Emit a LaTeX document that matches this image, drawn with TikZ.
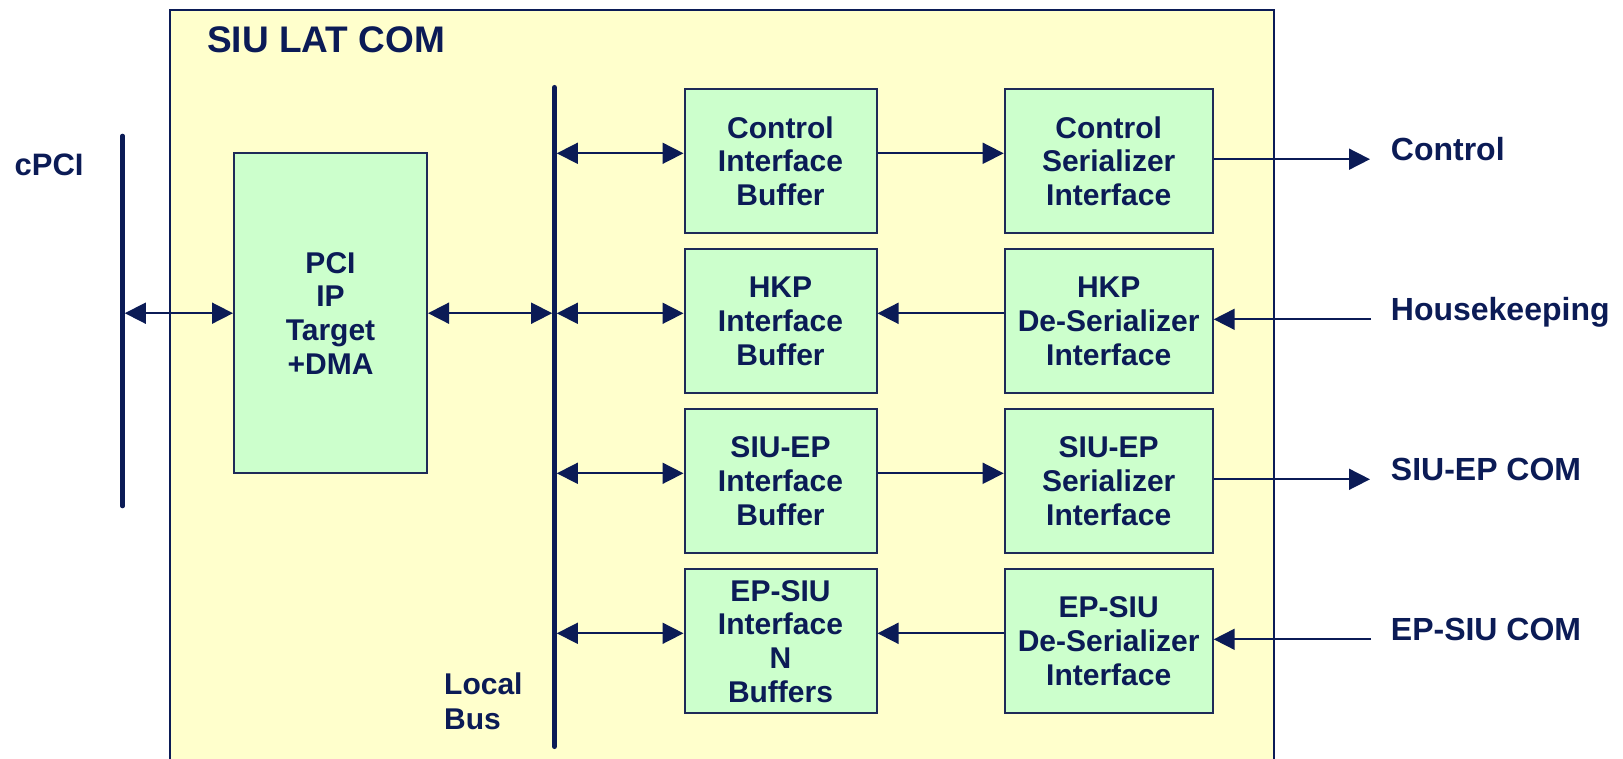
\documentclass[tikz,border=0pt]{standalone}
\usepackage{fontspec}
\setmainfont{Liberation Sans}
\usetikzlibrary{arrows.meta}
\definecolor{navy}{RGB}{11,27,86}
\definecolor{boxline}{RGB}{30,42,88}
\definecolor{paleyellow}{RGB}{255,255,204}
\definecolor{palegreen}{RGB}{204,255,204}
\tikzset{
  blk/.style={draw=boxline, line width=2pt, fill=palegreen, inner sep=0pt,
    align=center, text=navy, font=\bfseries\fontsize{30}{33.7}\selectfont},
  buf/.style={blk, minimum width=192pt, minimum height=144pt},
  ser/.style={blk, minimum width=208pt, minimum height=144pt},
  lbl/.style={text=navy, inner sep=0pt, anchor=base west},
  bus/.style={draw=navy, line width=4.6pt, line cap=round},
  conn/.style={draw=navy, line width=1.7pt, >={Triangle[length=21pt,width=21pt]}},
}
\begin{document}
\begin{tikzpicture}[x=1pt,y=-1pt]
\useasboundingbox (0,0) rectangle (1623,759);
\clip (0,0) rectangle (1623,759);
% frame
\path[draw=navy, line width=2pt, fill=paleyellow] (170,9.7) rectangle (1274.3,800);
\node[lbl, font=\bfseries\fontsize{37}{40}\selectfont] (title) at (207,52.3) {SIU LAT COM};
% buses
\coordinate (cpciT) at (122.5,136);
\coordinate (cpciB) at (122.5,506);
\coordinate (cpciR) at (124.8,136);
\coordinate (lbusT) at (554.5,87.3);
\coordinate (lbusB) at (554.5,746.7);
\coordinate (lbusL) at (552.2,87.3);
\coordinate (lbusR) at (556.8,87.3);
\draw[bus] (cpciT) -- (cpciB);
\draw[bus] (lbusT) -- (lbusB);
\node[lbl, font=\bfseries\fontsize{31}{34}\selectfont] (cpci) at (14.5,175.7) {cPCI};
\node[text=navy, inner sep=0pt, anchor=south west, text depth=0pt, align=left,
  font=\bfseries\fontsize{30}{34.3}\selectfont] (lbus) at (444,729.3) {Local\\Bus};
% PCI block
\node[blk, minimum width=193pt, minimum height=320pt] (pci) at (330.5,313.2) {PCI\\IP\\Target\\+DMA};
% rows
\node[buf] (cib) at (780.5,161.2) {Control\\Interface\\Buffer};
\node[ser] (csi) at (1108.7,161.2) {Control\\Serializer\\Interface};
\node[buf] (hib) at (780.5,321.3) {HKP\\Interface\\Buffer};
\node[ser] (hdi) at (1108.7,321.3) {HKP\\De-Serializer\\Interface};
\node[buf] (sib) at (780.5,481.3) {SIU-EP\\Interface\\Buffer};
\node[ser] (ssi) at (1108.7,481.3) {SIU-EP\\Serializer\\Interface};
\node[buf] (eib) at (780.5,641.3) {EP-SIU\\Interface\\N\\Buffers};
\node[ser] (edi) at (1108.7,641.3) {EP-SIU\\De-Serializer\\Interface};
% levels
\coordinate (a1) at (0,153.3);
\coordinate (a2) at (0,313.3);
\coordinate (a3) at (0,473.3);
\coordinate (a4) at (0,633.3);
\coordinate (o1) at (1370,159.2);
\coordinate (o2) at (1371,319.3);
\coordinate (o3) at (1370,479.3);
\coordinate (o4) at (1371,639.3);
% right labels
\node[lbl, font=\bfseries\fontsize{32}{35}\selectfont] (lctl) at (1390.7,160.5) {Control};
\node[lbl, font=\bfseries\fontsize{32}{35}\selectfont] (lhkp) at (1390.7,321) {Housekeeping};
\node[lbl, font=\bfseries\fontsize{32}{35}\selectfont] (lsep) at (1390.7,480.8) {SIU-EP COM};
\node[lbl, font=\bfseries\fontsize{32}{35}\selectfont] (leps) at (1390.7,640.4) {EP-SIU COM};
% connectors
\draw[conn,<->] (cpciR |- pci.west) -- (pci.west);
\draw[conn,<->] (pci.east) -- (lbusL |- pci.east);
\draw[conn,<->] (lbusR |- a1) -- (cib.west |- a1);
\draw[conn,<->] (lbusR |- a2) -- (hib.west |- a2);
\draw[conn,<->] (lbusR |- a3) -- (sib.west |- a3);
\draw[conn,<->] (lbusR |- a4) -- (eib.west |- a4);
\draw[conn,->] (cib.east |- a1) -- (csi.west |- a1);
\draw[conn,->] (hdi.west |- a2) -- (hib.east |- a2);
\draw[conn,->] (sib.east |- a3) -- (ssi.west |- a3);
\draw[conn,->] (edi.west |- a4) -- (eib.east |- a4);
\draw[conn,->] (csi.east |- o1) -- (o1);
\draw[conn,->] (o2) -- (hdi.east |- o2);
\draw[conn,->] (ssi.east |- o3) -- (o3);
\draw[conn,->] (o4) -- (edi.east |- o4);
\end{tikzpicture}
\end{document}
